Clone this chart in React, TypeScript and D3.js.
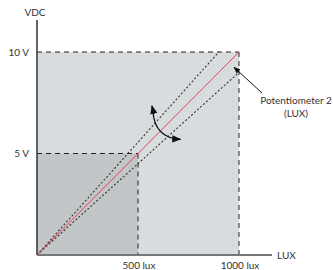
import React from 'react';
import * as d3 from 'd3';

// values
const luxTicks = [500, 1000];
const voltTicks = [5, 10];
const nominalLine = [[0, 0], [1000, 10]];
const upperLine = [[0, 0], [900, 10]];
const lowerLine = [[0, 0], [1000, 9]];
const adjustArc = [[574, 7.25], [584, 5.75], [735, 5.7]];
const labelTip = [975, 9.25];

const W = 333;
const H = 270;
const FONT = 'Lato, "DejaVu Sans", sans-serif';

const App = () => {
    const x = d3.scaleLinear().domain([0, 1000]).range([37, 239]);
    const y = d3.scaleLinear().domain([0, 10]).range([255, 52]);
    const line = d3.line<number[]>().x(d => x(d[0])).y(d => y(d[1]));

    const arc = d3.path();
    arc.moveTo(x(adjustArc[0][0]), y(adjustArc[0][1]) + 4);
    arc.quadraticCurveTo(x(adjustArc[1][0]), y(adjustArc[1][1]), x(adjustArc[2][0]) - 5, y(adjustArc[2][1]));

    const x0 = x(0), y0 = y(0);
    const [vMid, vMax] = voltTicks;
    const [lMid, lMax] = luxTicks;

    return (
        <svg width={W} height={H} style={{ position: 'absolute', left: 0, top: 0 }} fontFamily={FONT}>
            <defs>
                <marker id="head" viewBox="0 0 10 10" refX="9" refY="5" markerWidth="7" markerHeight="7" orient="auto">
                    <path d="M0,1 L10,5 L0,9 Z" fill="#111" />
                </marker>
            </defs>

            {/* shaded areas */}
            <rect x={x0} y={y(vMax)} width={x(lMax) - x0} height={y0 - y(vMax)} fill="#d9dcdf" />
            <rect x={x0} y={y(vMid)} width={x(lMid) - x0} height={y0 - y(vMid)} fill="#c3c6c9" />

            {/* dashed guides */}
            <g stroke="#222" strokeWidth={1} strokeDasharray="5,4" fill="none">
                <line x1={x0} x2={x(lMax)} y1={y(vMax)} y2={y(vMax)} />
                <line x1={x(lMax)} x2={x(lMax)} y1={y(vMax)} y2={y0} />
                <line x1={x0} x2={x(lMid)} y1={y(vMid)} y2={y(vMid)} />
                <line x1={x(lMid)} x2={x(lMid)} y1={y(vMid)} y2={y0} />
            </g>

            {/* tolerance lines */}
            <g stroke="#333" strokeWidth={1.1} strokeDasharray="2,2" fill="none">
                <path d={line(upperLine) ?? ''} />
                <path d={line(lowerLine) ?? ''} />
            </g>
            <path d={line(nominalLine) ?? ''} stroke="#e8414a" strokeWidth={1} fill="none" />

            {/* adjustment arrow */}
            <path d={arc.toString()} stroke="#111" strokeWidth={1.3} fill="none" markerEnd="url(#head)" />
            <path d={`M${x(adjustArc[0][0]) + 1},${y(adjustArc[0][1]) + 6} L${x(adjustArc[0][0]) - 1},${y(adjustArc[0][1]) - 2}`}
                stroke="#111" strokeWidth={1.3} markerEnd="url(#head)" />

            {/* axes */}
            <line x1={x0} x2={x0} y1={20} y2={y0} stroke="#333" strokeWidth={1.5} />
            <line x1={x0} x2={272} y1={y0} y2={y0} stroke="#777" strokeWidth={2} />

            <g fontSize={10} fill="#333">
                <text x={35} y={16} textAnchor="middle">VDC</text>
                {voltTicks.map(v => (
                    <text key={v} x={29} y={y(v) + 3.5} textAnchor="end">{v} V</text>
                ))}
                {luxTicks.map(l => (
                    <text key={l} x={x(l) + 1} y={269} textAnchor="middle">{l} lux</text>
                ))}
                <text x={277} y={259}>LUX</text>
                <text x={296} y={104} textAnchor="middle">Potentiometer 2</text>
                <text x={296} y={117} textAnchor="middle">(LUX)</text>
            </g>

            {/* label pointer */}
            <line x1={262} y1={93} x2={x(labelTip[0])} y2={y(labelTip[1])} stroke="#111" strokeWidth={1} markerEnd="url(#head)" />
        </svg>
    );
};

export default App;
